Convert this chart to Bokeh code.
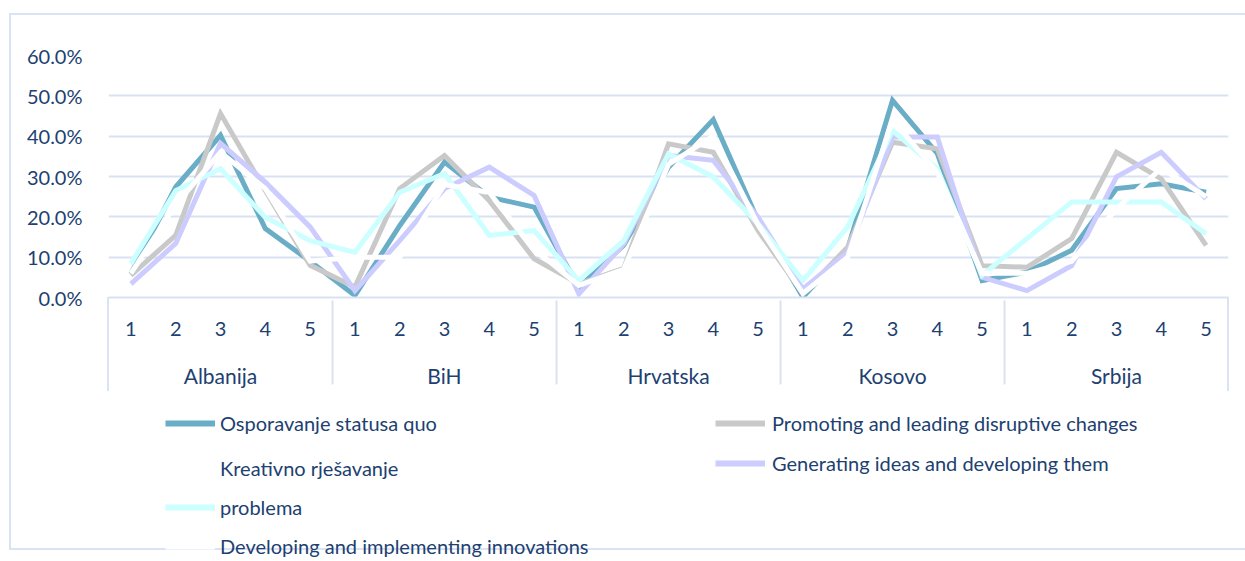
from bokeh.plotting import figure
from bokeh.layouts import column
from bokeh.models import (FactorRange, Range1d, SingleIntervalTicker, PrintfTickFormatter,
                          Legend, LegendItem, ColumnDataSource)
from bokeh.embed import file_html
from bokeh.resources import INLINE

countries = ["Albanija", "BiH", "Hrvatska", "Kosovo", "Srbija"]
levels = ["1", "2", "3", "4", "5"]

osporavanje = [5.9, 27.4, 40.2, 17.1, 9.0,
               0.5, 17.8, 33.6, 24.9, 22.4,
               2.5, 13.0, 32.3, 44.1, 19.0,
               0.1, 12.1, 48.9, 35.7, 4.2,
               6.3, 11.7, 27.0, 28.2, 26.1]
promoting = [5.5, 15.4, 45.6, 26.5, 8.0,
             2.6, 27.0, 35.2, 24.0, 9.6,
             3.4, 7.2, 38.1, 36.0, 16.6,
             1.0, 12.5, 38.5, 36.9, 7.9,
             7.5, 14.6, 36.0, 29.4, 12.9]
kreativno = [8.4, 26.5, 31.9, 19.9, 14.1,
             11.2, 26.1, 30.7, 15.4, 16.6,
             4.2, 14.1, 35.6, 29.9, 18.3,
             4.2, 17.5, 41.4, 31.9, 5.5,
             14.6, 23.7, 23.7, 23.7, 15.8]
generating = [3.4, 13.4, 38.2, 28.6, 17.5,
              1.7, 14.1, 27.0, 32.3, 25.3,
              0.9, 13.3, 35.2, 34.0, 19.9,
              2.1, 11.2, 39.8, 39.8, 5.0,
              1.7, 7.9, 29.9, 36.0, 24.5]
developing = [6.0, 23.0, 36.0, 27.0, 9.0,
              10.0, 10.0, 28.0, 26.0, 12.0,
              3.0, 7.0, 33.0, 40.0, 18.0,
              1.0, 10.0, 44.0, 31.0, 6.0,
              6.0, 9.0, 22.0, 32.0, 25.0]

factors = [(c, l) for c in countries for l in levels]

FONT = "Lato"
TXT = "#213f70"
GRID = "#d9e2f3"
C_OSP = "#6aadc6"
C_PRO = "#c9c9c9"
C_KRE = "#ccffff"
C_GEN = "#ccccff"
C_DEV = "#ffffff"

p = figure(x_range=FactorRange(*factors, group_padding=0, range_padding=0, factor_padding=0),
           y_range=Range1d(0, 60), width=1245, height=400,
           output_backend="svg", toolbar_location=None,
           min_border_left=108, min_border_right=17, min_border_top=55, min_border_bottom=103)
p.outline_line_color = None
p.border_fill_color = None
p.background_fill_color = None

# y axis
p.yaxis.ticker = SingleIntervalTicker(interval=10)
p.yaxis.formatter = PrintfTickFormatter(format="%.1f%%")
p.yaxis.axis_line_color = None
p.yaxis.major_tick_line_color = None
p.yaxis.minor_tick_line_color = None
p.yaxis.major_tick_out = 0
p.yaxis.major_label_standoff = 22
p.yaxis.major_label_text_font = FONT
p.yaxis.major_label_text_font_size = "20px"
p.yaxis.major_label_text_color = TXT

p.ygrid.grid_line_color = GRID
p.ygrid.grid_line_width = 2
p.xgrid.grid_line_color = None

# x axis
xa = p.xaxis[0]
xa.axis_line_color = GRID
xa.axis_line_width = 2
xa.major_tick_line_color = None
xa.major_tick_out = 0
xa.major_label_standoff = 24
xa.major_label_text_font = FONT
xa.major_label_text_font_size = "20px"
xa.major_label_text_color = TXT
xa.group_text_font = FONT
xa.group_text_font_size = "21px"
xa.group_text_font_style = "normal"
xa.group_text_color = TXT
xa.separator_line_color = GRID
xa.separator_line_width = 2

def src(vals):
    return ColumnDataSource(dict(x=factors, y=vals))

lw = 5
p.line("x", "y", source=src(osporavanje), line_color=C_OSP, line_width=lw, line_join="miter")
p.line("x", "y", source=src(promoting), line_color=C_PRO, line_width=lw, line_join="miter")
p.line("x", "y", source=src(generating), line_color=C_GEN, line_width=lw, line_join="miter")
p.line("x", "y", source=src(kreativno), line_color=C_KRE, line_width=lw, line_join="miter")
p.line("x", "y", source=src(developing), line_color=C_DEV, line_width=lw, line_join="miter")

# legend panel (its frame is aligned with the chart's frame by the column layout)
p2 = figure(width=1245, height=160, x_range=Range1d(0, 1), y_range=Range1d(0, 1),
            output_backend="svg", toolbar_location=None,
            x_axis_location=None, y_axis_location=None, min_border=0)
p2.outline_line_color = None
p2.border_fill_color = None
p2.background_fill_color = None
p2.grid.visible = False

nan = float("nan")
def key(**kw):
    return p2.line(x=[nan], y=[nan], **kw)

sw = 6
k_osp = key(line_color=C_OSP, line_width=sw)
k_pro = key(line_color=C_PRO, line_width=sw)
k_kre = key(line_color=C_KRE, line_width=sw)
k_gen = key(line_color=C_GEN, line_width=sw)
k_dev = key(line_color=C_DEV, line_width=sw)
k_none = key(line_alpha=0)

def make_legend(items, loc, standoff, spacing):
    return Legend(items=items, location=loc, orientation="vertical",
                  glyph_width=50, glyph_height=20, label_height=20, spacing=spacing,
                  padding=0, margin=0, label_standoff=standoff,
                  background_fill_alpha=0, border_line_alpha=0,
                  label_text_font=FONT, label_text_font_size="20px", label_text_color=TXT)

left_a = make_legend([
    LegendItem(label="Osporavanje statusa quo", renderers=[k_osp]),
], (57, 125), 5, 16)
left_b = make_legend([
    LegendItem(label="Kreativno rješavanje", renderers=[k_none]),
    LegendItem(label="problema", renderers=[k_kre]),
    LegendItem(label="Developing and implementing innovations", renderers=[k_dev]),
], (57, 2), 5, 15)
right = make_legend([
    LegendItem(label="Promoting and leading disruptive changes", renderers=[k_pro]),
    LegendItem(label="Generating ideas and developing them", renderers=[k_gen]),
], (607, 85), 7, 16)
p2.add_layout(left_a)
p2.add_layout(left_b)
p2.add_layout(right)

ln = "linear-gradient(#dae3f3, #dae3f3)"
bg = ", ".join([
    f"{ln} 9px 13px / 1236px 2px no-repeat",
    f"{ln} 9px 13px / 2px 536px no-repeat",
    f"{ln} 9px 548px / 1236px 2px no-repeat",
    f"{ln} 107px 297px / 2px 94px no-repeat",
    f"{ln} 1227px 297px / 2px 94px no-repeat",
])
layout = column(p, p2, spacing=0, styles={"background": bg})

open("out.html", "w").write(file_html(layout, INLINE))
